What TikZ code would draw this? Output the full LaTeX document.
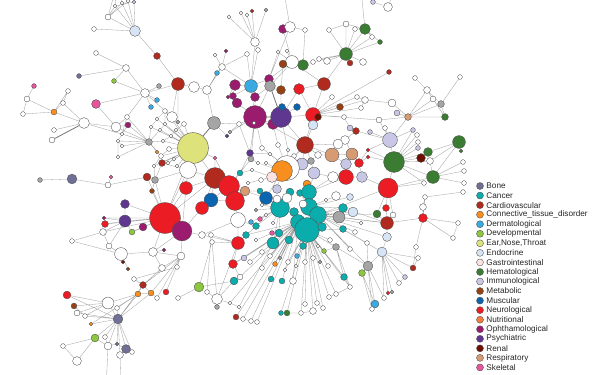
\documentclass[tikz,border=0pt]{standalone}
\usepackage{fontspec}
\setmainfont{Liberation Sans}
\usetikzlibrary{positioning,backgrounds}

\definecolor{cBone}{RGB}{112,112,150}
\definecolor{cCan}{RGB}{10,172,172}
\definecolor{cCar}{RGB}{176,42,30}
\definecolor{cCon}{RGB}{247,142,30}
\definecolor{cDer}{RGB}{58,170,225}
\definecolor{cDev}{RGB}{141,198,63}
\definecolor{cEnt}{RGB}{221,226,122}
\definecolor{cEndo}{RGB}{214,228,245}
\definecolor{cGas}{RGB}{253,226,226}
\definecolor{cHem}{RGB}{58,125,50}
\definecolor{cImm}{RGB}{200,200,230}
\definecolor{cMet}{RGB}{150,65,20}
\definecolor{cMus}{RGB}{10,100,176}
\definecolor{cNeu}{RGB}{236,28,36}
\definecolor{cNut}{RGB}{242,125,60}
\definecolor{cOph}{RGB}{155,28,110}
\definecolor{cPsy}{RGB}{95,55,145}
\definecolor{cRen}{RGB}{110,15,0}
\definecolor{cRes}{RGB}{215,155,115}
\definecolor{cSke}{RGB}{230,85,155}
\definecolor{cGry}{RGB}{165,165,165}

\begin{document}
\begin{tikzpicture}[
x=1pt,y=-1pt,
dis/.style={circle,draw=black!70,line width=0.35pt,inner sep=0pt,minimum size=#1pt+0.8pt},
wht/.style={dis=#1,fill=white},
gry/.style={dis=#1,fill=cGry},
bone/.style={dis=#1,fill=cBone},
can/.style={dis=#1,fill=cCan},
car/.style={dis=#1,fill=cCar},
con/.style={dis=#1,fill=cCon},
der/.style={dis=#1,fill=cDer},
dev/.style={dis=#1,fill=cDev},
ent/.style={dis=#1,fill=cEnt},
endo/.style={dis=#1,fill=cEndo},
gas/.style={dis=#1,fill=cGas},
hem/.style={dis=#1,fill=cHem},
imm/.style={dis=#1,fill=cImm},
met/.style={dis=#1,fill=cMet},
mus/.style={dis=#1,fill=cMus},
neu/.style={dis=#1,fill=cNeu},
nut/.style={dis=#1,fill=cNut},
oph/.style={dis=#1,fill=cOph},
psy/.style={dis=#1,fill=cPsy},
ren/.style={dis=#1,fill=cRen},
res/.style={dis=#1,fill=cRes},
ske/.style={dis=#1,fill=cSke},
link/.style={draw=black!38,line width=0.3pt},
heavy/.style={draw=black!55,line width=0.8pt},
lab/.style={inner sep=0pt,text=black!85,font=\fontsize{8.2}{9.8}\selectfont}
]
\useasboundingbox (0,0) rectangle (600,375);

\node[endo=10] (endo1) at (135,31) {};
\node[wht=5] (w1) at (108,17) {};
\node[wht=4] (w2) at (94,29) {};
\node[wht=3] (w3) at (115,6) {};
\node[wht=3] (w4) at (122,3) {};
\node[wht=3] (w5) at (128,1) {};
\node[imm=3] (imm1) at (134,2) {};
\node[car=6] (car1) at (157,56) {};
\node[wht=4] (w6) at (96,53) {};
\node[wht=6] (w7) at (126,68) {};
\node[dev=4] (dev1) at (114,81) {};
\node[bone=4] (bone1) at (79,76) {};
\node[wht=8] (w8) at (145,93) {};
\node[gry=4] (g1) at (159,86) {};
\node[der=4] (der1) at (157,100) {};
\node[der=4] (der2) at (151,107) {};
\node[car=12] (car2) at (178,84) {};
\node[wht=10] (w13) at (194,87) {};
\node[wht=8] (w14) at (207,90) {};
\node[wht=10] (w20) at (172,117) {};
\node[gry=3] (g12) at (178,122) {};
\coordinate (up1) at (118,-20);
\coordinate (up2) at (282,-20);
\coordinate (up3) at (360,-20);
\coordinate (up4) at (398,-20);
\coordinate (down1) at (106,390);
\coordinate (down2) at (121,390);

\node[ske=8] (ske1) at (96,104) {};
\node[ske=4] (ske2) at (34,86) {};
\node[wht=5] (w18) at (27,99) {};
\node[wht=4] (w19) at (23,114) {};
\node[con=5] (con2) at (54,112) {};
\node[wht=4] (w22) at (68,91) {};
\node[wht=4] (w23) at (63,103) {};
\node[wht=10] (w9) at (84,123) {};
\node[wht=4] (w24) at (54,130) {};
\node[wht=5] (w25) at (52,140) {};
\node[wht=9] (w10) at (116,127) {};
\node[wht=4] (w11) at (127,117) {};
\node[oph=5] (oph1) at (128,125) {};
\node[wht=3] (w12) at (122,134) {};
\node[wht=3] (w15) at (118,141) {};
\node[wht=3] (w16) at (122,146) {};
\node[wht=3] (w17) at (118,157) {};
\node[gry=6] (g2) at (149,142) {};
\node[con=3] (con1) at (157,152) {};

\node[gry=12] (g3) at (214,123) {};
\node[wht=3] (e1) at (160,130) {};
\node[wht=3] (e2) at (165,124) {};
\node[wht=3] (e3) at (171,136) {};
\node[wht=3] (e4) at (163,141) {};
\node[wht=4] (e5) at (169,149) {};
\node[wht=3] (e6) at (176,130) {};
\node[wht=4] (e7) at (184,124) {};
\node[wht=4] (e8) at (161,156) {};
\node[wht=3] (e9) at (168,163) {};
\node[wht=3] (e10) at (174,159) {};
\node[wht=3] (e11) at (154,166) {};
\node[wht=3] (e12) at (177,166) {};
\node[wht=3] (e13) at (151,127) {};
\node[wht=3] (e14) at (157,119) {};
\node[wht=4] (e15) at (165,111) {};
\node[ent=30] (ent1) at (193,148) {};
\node[wht=16] (w26) at (188,170) {};
\node[car=6] (car10) at (162,163) {};
\node[gry=6] (g10) at (155,180) {};
\node[car=7] (car11) at (147,177) {};
\node[ske=3] (ske3) at (111,177) {};
\node[wht=5] (w75) at (108,185) {};
\node[bone=9] (bone2) at (72,179) {};
\node[gry=4] (g11) at (40,180) {};
\node[met=4] (met6) at (152,191) {};
\node[ske=3] (ske4) at (215,158) {};

\node[wht=8] (w28) at (255,42) {};
\node[wht=4] (w29) at (247,54) {};
\node[wht=4] (w30) at (258,50) {};
\node[wht=3] (w31) at (229,17) {};
\node[wht=3] (w32) at (241,13) {};
\node[wht=3] (w33) at (247,15) {};
\node[car=3] (car3) at (252,11) {};
\node[gry=3] (g5) at (266,10) {};
\node[oph=3] (oph10) at (226,51) {};
\node[wht=3] (w34) at (215,55) {};
\node[wht=6] (w35) at (222,67) {};
\node[der=4] (der4) at (217,73) {};
\node[oph=10] (oph3) at (235,85) {};
\node[oph=3] (oph6) at (228,97) {};
\node[oph=6] (oph4) at (233,96) {};
\node[oph=9] (oph5) at (237,103) {};
\node[oph=8] (oph7) at (255,97) {};
\node[der=12] (der3) at (251,86) {};
\node[oph=8] (oph8) at (269,79) {};
\node[gry=10] (g4) at (270,86) {};
\node[met=8] (met1) at (281,90) {};
\node[neu=10] (neu1) at (299,89) {};
\node[oph=10] (oph9) at (273,124) {};
\node[oph=22] (oph2) at (255,117) {};
\node[psy=20] (psy1) at (281,117) {};
\node[mus=6] (mus1) at (282,107) {};
\node[mus=6] (mus2) at (297,107) {};
\node[wht=3] (w27) at (254,123) {};
\node[wht=4] (w37) at (239,124) {};
\node[gry=3] (g7) at (230,132) {};
\node[psy=3] (psy3) at (227,136) {};
\node[psy=6] (psy2) at (250,153) {};
\node[gry=5] (g6) at (251,159) {};

\node[wht=4] (w40) at (329,30) {};
\node[wht=5] (w39) at (346,24) {};
\node[wht=4] (w41) at (355,29) {};
\node[wht=4] (w42) at (372,37) {};
\node[hem=10] (hem1) at (365,29) {};
\node[hem=4] (hem3) at (380,42) {};
\node[hem=12] (hem2) at (346,54) {};
\node[car=5] (car4) at (350,63) {};
\node[wht=6] (w38) at (363,62) {};
\node[wht=8] (w43) at (388,7) {};
\node[imm=4] (imm2) at (373,2) {};
\node[wht=6] (w44) at (327,61) {};
\node[wht=4] (w45) at (319,59) {};
\node[wht=4] (w46) at (313,62) {};
\node[hem=10] (hem4) at (303,65) {};
\node[wht=4] (w47) at (305,30) {};
\node[oph=8] (oph11) at (283,29) {};
\node[wht=10] (w48) at (290,27) {};
\node[wht=3] (w151) at (278,52) {};
\node[wht=3] (w152) at (287,51) {};
\node[wht=12] (w49) at (292,62) {};
\node[met=7] (met2) at (283,64) {};

\node[car=12] (car5) at (324,84) {};
\node[wht=4] (w60) at (332,97) {};
\node[met=6] (met3) at (340,107) {};
\node[wht=4] (w58) at (344,117) {};
\node[wht=4] (w57) at (357,97) {};
\node[wht=6] (w56) at (365,100) {};
\node[wht=4] (w59) at (361,108) {};
\node[neu=14] (neu2) at (313,115) {};
\node[ren=6] (ren1) at (318,117) {};
\node[endo=9] (endo2) at (313,125) {};
\node[car=4] (car6) at (389,72) {};
\node[wht=4] (w50) at (415,78) {};
\node[wht=4] (w51) at (460,77) {};
\node[wht=6] (w52) at (427,90) {};
\node[wht=5] (w53) at (433,99) {};
\node[gry=6] (g8) at (441,104) {};
\node[hem=6] (hem5) at (445,117) {};
\node[wht=7] (w54) at (392,103) {};
\node[imm=5] (imm3) at (397,113) {};
\node[res=6] (res1) at (408,117) {};
\node[wht=5] (w55) at (379,120) {};

\node[car=16] (car7) at (305,145) {};
\node[wht=6] (w65) at (318,155) {};
\node[gry=6] (g9) at (311,161) {};
\node[wht=8] (w62) at (345,140) {};
\node[wht=9] (w61) at (338,144) {};
\node[res=13] (res2) at (332,155) {};
\node[res=11] (res3) at (352,154) {};
\node[imm=5] (imm5) at (350,128) {};
\node[car=6] (car8) at (356,131) {};
\node[imm=4] (imm6) at (370,132) {};
\node[wht=4] (w63) at (385,128) {};
\node[imm=14] (imm4) at (390,140) {};
\node[neu=3] (neu4) at (368,150) {};
\node[neu=3] (neu5) at (368,157) {};
\node[neu=8] (neu3) at (359,163) {};
\node[imm=10] (imm7) at (346,164) {};
\node[imm=11] (imm10) at (302,164) {};
\node[imm=11] (imm9) at (314,173) {};
\node[wht=10] (w64) at (333,177) {};
\node[neu=14] (neu6) at (346,177) {};
\node[imm=10] (imm8) at (362,177) {};
\node[imm=4] (imm12) at (413,130) {};
\node[wht=4] (w67) at (417,135) {};
\node[wht=4] (w68) at (418,142) {};
\node[imm=4] (imm13) at (418,148) {};
\node[hem=20] (hem6) at (394,162) {};
\node[ren=8] (ren2) at (421,158) {};
\node[hem=8] (hem7) at (428,152) {};
\node[wht=6] (w66) at (430,161) {};
\node[hem=12] (hem8) at (433,177) {};
\node[hem=12] (hem9) at (459,142) {};
\node[hem=3] (hem10) at (461,151) {};
\node[wht=4] (w69) at (463,162) {};
\node[wht=4] (w70) at (464,171) {};
\node[wht=4] (w71) at (464,183) {};
\node[wht=4] (w72) at (424,183) {};

\node[wht=4] (w110) at (262,148) {};
\node[wht=3] (w111) at (270,154) {};
\node[wht=4] (w112) at (278,145) {};
\node[wht=3] (w113) at (288,150) {};
\node[wht=4] (w114) at (294,156) {};
\node[wht=3] (w115) at (258,163) {};
\node[wht=3] (w116) at (266,163) {};
\node[wht=3] (w117) at (252,170) {};
\node[wht=4] (w118) at (261,180) {};
\node[wht=3] (w119) at (248,183) {};
\node[wht=24] (w73) at (287,168) {};
\node[con=20] (con3) at (282,171) {};
\node[gas=10] (gas1) at (272,177) {};
\node[imm=8] (imm14) at (277,189) {};

\node[car=20] (car9) at (215,178) {};
\node[neu=12] (neu10) at (186,188) {};
\node[can=5] (can1) at (240,173) {};
\node[neu=20] (neu7) at (229,186) {};
\node[res=9] (res4) at (245,191) {};
\node[mus=13] (mus3) at (211,200) {};
\node[neu=12] (neu9) at (202,208) {};
\node[neu=18] (neu8) at (235,201) {};
\node[mus=12] (mus4) at (266,198) {};
\node[wht=14] (w74) at (238,220) {};
\node[neu=12] (neu11) at (238,243) {};
\node[can=6] (can25) at (246,235) {};
\node[psy=8] (psy4) at (125,204) {};
\node[psy=11] (psy5) at (125,221) {};
\node[oph=3] (oph14) at (104,218) {};
\node[neu=6] (neu13) at (105,224) {};
\node[wht=6] (w76) at (103,232) {};
\node[oph=7] (oph13) at (143,227) {};
\node[dev=5] (dev2) at (132,232) {};
\node[wht=4] (w77) at (72,241) {};
\node[wht=5] (w78) at (109,246) {};
\node[wht=12] (w79) at (121,254) {};
\node[ren=3] (ren3) at (123,262) {};
\node[met=3] (met4) at (128,269) {};
\node[neu=30] (neu12) at (165,218) {};
\node[oph=19] (oph12) at (182,231) {};
\node[wht=8] (w80) at (153,252) {};
\node[oph=3] (oph15) at (164,250) {};
\node[wht=7] (w81) at (181,256) {};
\node[wht=6] (w82) at (162,268) {};
\node[wht=4] (w83) at (177,267) {};
\node[wht=6] (w84) at (202,235) {};
\node[wht=4] (w85) at (211,235) {};
\node[wht=4] (w86) at (212,242) {};

\node[wht=4] (w89) at (134,279) {};
\node[car=6] (car12) at (143,285) {};
\node[con=5] (con4) at (138,294) {};
\node[con=5] (con5) at (151,293) {};
\node[wht=4] (w88) at (157,298) {};
\node[neu=5] (neu14) at (166,292) {};
\node[wht=4] (w90) at (178,298) {};
\node[dev=9] (dev3) at (199,287) {};
\node[wht=4] (w148) at (207,292) {};
\node[wht=10] (w91) at (217,299) {};
\node[gry=4] (g13) at (217,307) {};
\node[neu=7] (neu15) at (67,295) {};
\node[met=5] (met5) at (74,306) {};
\node[wht=5] (w93) at (77,313) {};
\node[wht=11] (w94) at (108,303) {};
\node[wht=4] (w95) at (117,308) {};
\node[wht=4] (w96) at (85,316) {};
\node[con=3] (con6) at (91,324) {};
\node[bone=9] (bone3) at (118,319) {};
\node[dev=7] (dev4) at (95,338) {};
\node[wht=4] (w102) at (105,337) {};
\node[wht=4] (w97) at (63,346) {};
\node[wht=8] (w98) at (77,361) {};
\node[wht=7] (w99) at (108,346) {};
\node[bone=3] (bone4) at (117,344) {};
\node[bone=8] (bone5) at (126,349) {};
\node[wht=6] (w100) at (120,355) {};
\node[wht=4] (w101) at (132,352) {};

\node[con=7] (con8) at (307,184) {};
\node[can=5] (can17) at (260,191) {};
\node[wht=3] (c14) at (262,205) {};
\node[wht=3] (c15) at (266,215) {};
\node[gry=3] (c16) at (256,210) {};
\node[wht=3] (c24) at (273,223) {};
\node[der=4] (der5) at (251,222) {};
\node[can=6] (can19) at (256,226) {};
\node[ske=4] (ske5) at (260,219) {};
\node[wht=3] (c13) at (256,240) {};
\node[can=7] (can10) at (290,192) {};
\node[can=6] (can11) at (300,193) {};
\node[can=14] (can7) at (309,192) {};
\node[can=18] (can5) at (280,208) {};
\node[wht=7] (w121) at (277,199) {};
\node[wht=9] (w120) at (287,198) {};
\node[can=8] (can8) at (294,212) {};
\node[can=16] (can3) at (309,207) {};
\node[can=16] (can4) at (318,215) {};
\node[wht=7] (w122) at (303,204) {};
\node[can=14] (can6) at (298,222) {};
\node[can=24] (can2) at (307,230) {};
\node[can=8] (can9) at (322,227) {};
\node[ske=4] (ske6) at (272,233) {};
\node[can=7] (can15) at (279,233) {};
\node[can=11] (can14) at (273,243) {};
\node[can=7] (can16) at (289,240) {};
\node[can=6] (can18) at (303,246) {};
\node[wht=3] (c18) at (326,200) {};
\node[wht=8] (c19) at (336,196) {};
\node[can=8] (can12) at (343,208) {};
\node[gry=11] (g14) at (339,217) {};
\node[endo=6] (endo4) at (350,197) {};
\node[endo=9] (endo3) at (353,212) {};
\node[can=6] (can13) at (343,229) {};
\node[wht=4] (c21) at (355,232) {};
\node[wht=3] (c22) at (361,223) {};
\node[hem=7] (hem11) at (377,214) {};
\node[neu=19] (neu16) at (388,188) {};
\node[neu=6] (neu17) at (386,208) {};
\node[wht=5] (w123) at (393,215) {};
\node[car=12] (car14) at (387,223) {};
\node[endo=8] (endo5) at (387,237) {};
\node[endo=9] (endo6) at (382,252) {};
\node[wht=4] (w140) at (367,243) {};
\node[wht=4] (c23) at (350,249) {};
\node[gry=6] (g16) at (336,247) {};
\node[dev=4] (dev5) at (324,251) {};
\node[wht=4] (c17) at (330,240) {};
\node[wht=3] (c20) at (318,246) {};

\node[wht=4] (c1) at (262,252) {};
\node[wht=4] (c2) at (270,256) {};
\node[gry=3] (c3) at (280,258) {};
\node[wht=4] (c4) at (288,262) {};
\node[wht=3] (c5) at (296,266) {};
\node[wht=4] (c6) at (305,262) {};
\node[wht=4] (c7) at (313,258) {};
\node[gry=3] (c8) at (320,262) {};
\node[wht=4] (c9) at (328,266) {};
\node[wht=3] (c10) at (285,270) {};
\node[wht=4] (c11) at (262,268) {};
\node[wht=4] (c12) at (250,262) {};
\node[der=4] (der6) at (297,256) {};
\node[con=4] (con9) at (275,264) {};
\node[neu=8] (neu20) at (233,264) {};
\node[imm=5] (imm17) at (244,258) {};
\node[wht=5] (w145) at (240,277) {};
\node[can=7] (can20) at (234,281) {};
\node[can=5] (can21) at (271,279) {};
\node[can=5] (can22) at (282,281) {};
\node[wht=6] (w146) at (293,281) {};
\node[gry=9] (g15) at (368,266) {};
\node[dev=6] (dev6) at (362,273) {};
\node[can=6] (can23) at (344,277) {};
\node[wht=4] (w128) at (350,287) {};
\node[wht=4] (w130) at (336,294) {};
\node[wht=4] (w129) at (329,297) {};
\node[wht=4] (w133) at (323,308) {};
\node[wht=4] (w131) at (317,303) {};
\node[wht=6] (w132) at (313,311) {};
\node[wht=4] (w147) at (305,304) {};
\node[wht=4] (w144) at (301,313) {};
\node[hem=5] (hem12) at (287,313) {};
\node[can=4] (can24) at (281,313) {};
\node[wht=4] (w143) at (257,322) {};
\node[wht=4] (w142) at (251,321) {};
\node[wht=4] (w141) at (243,319) {};
\node[car=5] (car16) at (236,317) {};
\node[wht=3] (w149) at (230,303) {};
\node[wht=3] (w150) at (239,307) {};
\node[car=5] (car15) at (413,268) {};
\node[wht=4] (w124) at (418,258) {};
\node[imm=4] (imm16) at (405,277) {};
\node[wht=4] (w125) at (399,283) {};
\node[gry=3] (g17) at (392,292) {};
\node[neu=3] (neu18) at (388,293) {};
\node[wht=4] (w126) at (384,298) {};
\node[der=7] (der7) at (375,304) {};
\node[wht=4] (w127) at (372,309) {};
\node[neu=8] (neu19) at (423,218) {};
\node[wht=6] (w134) at (423,207) {};
\node[wht=4] (w135) at (425,197) {};
\node[wht=4] (w138) at (463,192) {};
\node[wht=4] (w136) at (458,223) {};
\node[wht=4] (w137) at (453,238) {};
\node[wht=4] (w139) at (416,247) {};

\node[bone=6.2] (kBone) at (480,186) {};
\node[lab,right=2.6pt of kBone] (tBone) {Bone};
\node[can=6.2] (kCan) at (480,195.55) {};
\node[lab,right=2.6pt of kCan] (tCan) {Cancer};
\node[car=6.2] (kCar) at (480,205.1) {};
\node[lab,right=2.6pt of kCar] (tCar) {Cardiovascular};
\node[con=6.2] (kCon) at (480,214.65) {};
\node[lab,right=2.6pt of kCon] (tCon) {Connective\_tissue\_disorder};
\node[der=6.2] (kDer) at (480,224.2) {};
\node[lab,right=2.6pt of kDer] (tDer) {Dermatological};
\node[dev=6.2] (kDev) at (480,233.75) {};
\node[lab,right=2.6pt of kDev] (tDev) {Developmental};
\node[ent=6.2] (kEnt) at (480,243.3) {};
\node[lab,right=2.6pt of kEnt] (tEnt) {Ear,Nose,Throat};
\node[endo=6.2] (kEndo) at (480,252.85) {};
\node[lab,right=2.6pt of kEndo] (tEndo) {Endocrine};
\node[gas=6.2] (kGas) at (480,262.4) {};
\node[lab,right=2.6pt of kGas] (tGas) {Gastrointestinal};
\node[hem=6.2] (kHem) at (480,271.95) {};
\node[lab,right=2.6pt of kHem] (tHem) {Hematological};
\node[imm=6.2] (kImm) at (480,281.5) {};
\node[lab,right=2.6pt of kImm] (tImm) {Immunological};
\node[met=6.2] (kMet) at (480,291.05) {};
\node[lab,right=2.6pt of kMet] (tMet) {Metabolic};
\node[mus=6.2] (kMus) at (480,300.6) {};
\node[lab,right=2.6pt of kMus] (tMus) {Muscular};
\node[neu=6.2] (kNeu) at (480,310.15) {};
\node[lab,right=2.6pt of kNeu] (tNeu) {Neurological};
\node[nut=6.2] (kNut) at (480,319.7) {};
\node[lab,right=2.6pt of kNut] (tNut) {Nutritional};
\node[oph=6.2] (kOph) at (480,329.25) {};
\node[lab,right=2.6pt of kOph] (tOph) {Ophthamological};
\node[psy=6.2] (kPsy) at (480,338.8) {};
\node[lab,right=2.6pt of kPsy] (tPsy) {Psychiatric};
\node[ren=6.2] (kRen) at (480,348.35) {};
\node[lab,right=2.6pt of kRen] (tRen) {Renal};
\node[res=6.2] (kRes) at (480,357.9) {};
\node[lab,right=2.6pt of kRes] (tRes) {Respiratory};
\node[ske=6.2] (kSke) at (480,367.45) {};
\node[lab,right=2.6pt of kSke] (tSke) {Skeletal};

\begin{pgfonlayer}{background}
\fill[white] (0,0) rectangle (600,375);

\draw[link] (endo1) -- (w1) (endo1) -- (w2) (endo1) -- (w3) (endo1) -- (w4) (endo1) -- (w5) (endo1) -- (imm1) (endo1) -- (car1);
\draw[link] (w1) -- (w3) (w1) -- (w4) (w1) -- (w5) (w3) -- (imm1) (w1) -- (up1) (w3) -- (up1) (w4) -- (up1);
\draw[link] (car1) -- (car2) (car2) -- (w13) (car2) -- (w20) (car2) -- (g12) (car2) -- (w8) (w13) -- (w14) (w14) -- (g3) (w14) -- (der4) (w14) -- (w35);
\draw[link] (w6) -- (w7) (w7) -- (w8) (dev1) -- (w7) (dev1) -- (w8) (bone1) -- (w7) (w8) -- (g1) (w8) -- (der1) (w8) -- (der2) (w8) -- (w11) (w8) -- (w20);

\draw[link] (ske2) -- (w18) (w18) -- (w19) (w18) -- (con2) (w19) -- (con2) (con2) -- (w22) (con2) -- (w23) (w22) -- (w23) (con2) -- (w9) (w23) -- (w9) (w24) -- (w9) (w9) -- (w10) (ske1) -- (w10) (ske1) -- (w8);
\draw[heavy] (w25) -- (w9);
\draw[link] (w10) -- (oph1) (w10) -- (w11) (w11) -- (w12) (w12) -- (w15) (w15) -- (w16) (oph1) -- (w12) (g2) -- (w10) (g2) -- (w11) (g2) -- (oph1) (g2) -- (w12) (g2) -- (w15) (g2) -- (w16) (g2) -- (w17) (g2) -- (con1) (g2) -- (w9) (w15) -- (w17);

\draw[heavy] (ent1) -- (g3);
\draw[link] (ent1) -- (w26) (ent1) -- (w20) (ent1) -- (e1) (ent1) -- (e2) (ent1) -- (e3) (ent1) -- (e4) (ent1) -- (e5) (ent1) -- (e6) (ent1) -- (e7) (ent1) -- (e8) (ent1) -- (e9) (ent1) -- (e10) (ent1) -- (e11) (ent1) -- (e12) (ent1) -- (e13) (ent1) -- (e14) (ent1) -- (e15) (ent1) -- (car10) (ent1) -- (ske4) (ent1) -- (car9) (ent1) -- (neu12);
\draw[link] (g2) -- (e1) (g2) -- (e4) (g2) -- (e8) (g2) -- (e13) (e1) -- (e2) (e2) -- (e15) (e3) -- (e4) (e5) -- (e8) (e9) -- (e10) (e11) -- (e8) (e6) -- (e7) (e14) -- (e15) (e13) -- (e14) (w20) -- (e15) (w20) -- (g12) (e3) -- (e6);
\draw[link] (car11) -- (g10) (g10) -- (car10) (car11) -- (w75) (w75) -- (ske3) (bone2) -- (w75) (g11) -- (bone2) (car10) -- (w26) (car10) -- (e9) (e11) -- (g10) (met6) -- (g10) (met6) -- (neu12);

\draw[heavy] (oph2) -- (psy1) (psy1) -- (g4);
\draw[link] (oph2) -- (der3) (oph2) -- (oph7) (oph2) -- (oph5) (oph2) -- (oph9) (oph2) -- (g4) (oph2) -- (w37) (oph2) -- (psy2) (oph2) -- (g6) (oph2) -- (car7) (oph2) -- (g7) (oph2) -- (w27);
\draw[link] (psy1) -- (mus1) (psy1) -- (mus2) (psy1) -- (met1) (psy1) -- (neu1) (psy1) -- (oph9) (psy1) -- (neu2) (psy1) -- (car7);
\draw[link] (der3) -- (oph3) (der3) -- (oph4) (der3) -- (oph7) (der3) -- (w28) (der3) -- (w29) (der3) -- (w30) (der3) -- (w35) (der3) -- (oph8) (oph3) -- (oph4) (oph3) -- (oph6) (oph4) -- (oph5) (oph7) -- (g4) (oph8) -- (g4) (g4) -- (met1);
\draw[link] (w28) -- (w31) (w28) -- (w32) (w28) -- (w33) (w28) -- (car3) (w28) -- (g5) (w28) -- (w30) (w35) -- (w34) (w35) -- (der4) (w35) -- (oph10) (w35) -- (w29);
\draw[link] (psy2) -- (g6) (psy2) -- (w37) (psy3) -- (g7) (g7) -- (w37) (g3) -- (w37) (g3) -- (psy3) (psy2) -- (can1) (g6) -- (neu7);
\draw[link] (oph8) -- (w48) (g4) -- (w49) (oph8) -- (w49) (met1) -- (met2) (w151) -- (w49) (w152) -- (w49) (w151) -- (oph8);

\draw[link] (hem2) -- (hem1) (hem2) -- (w39) (hem2) -- (w40) (hem2) -- (w41) (hem2) -- (w42) (hem2) -- (hem3) (hem2) -- (car4) (hem2) -- (w38) (hem2) -- (w44) (hem2) -- (w45) (hem2) -- (w46) (hem2) -- (car5);
\draw[link] (hem1) -- (w39) (hem1) -- (w41) (hem1) -- (hem3) (hem1) -- (w42) (hem1) -- (up3) (w43) -- (imm2) (w43) -- (up4) (w39) -- (w40);
\draw[link] (w48) -- (oph11) (w48) -- (w47) (w48) -- (up2) (w47) -- (hem4) (hem4) -- (w49) (w49) -- (met2) (hem4) -- (w46) (w45) -- (w44) (oph11) -- (w49);

\draw[link] (res1) -- (w54) (res1) -- (imm3) (res1) -- (w55) (res1) -- (hem5) (res1) -- (g8) (res1) -- (w53) (res1) -- (w52) (g8) -- (w52) (g8) -- (w51) (g8) -- (hem5) (w52) -- (w50) (w52) -- (w53) (w53) -- (hem5) (res1) -- (imm4) (w55) -- (imm4);
\draw[link] (car6) -- (neu2) (w56) -- (w57) (w56) -- (neu2) (met3) -- (neu2) (w58) -- (neu2) (w59) -- (neu2) (w57) -- (neu2) (w60) -- (neu2) (car5) -- (neu2) (car5) -- (w49) (car5) -- (neu1) (neu1) -- (neu2) (endo2) -- (neu2) (ren1) -- (neu2) (w56) -- (w59) (w55) -- (neu2) (w54) -- (w56);

\draw[link] (hem6) -- (ren2) (hem6) -- (hem7) (hem6) -- (w66) (hem6) -- (imm12) (hem6) -- (w67) (hem6) -- (w68) (hem6) -- (imm13) (hem6) -- (w72) (hem6) -- (neu4) (hem6) -- (neu5) (hem6) -- (imm4) (hem6) -- (hem8) (hem6) -- (neu16);
\draw[link] (hem8) -- (w66) (hem8) -- (w69) (hem8) -- (w70) (hem8) -- (w71) (hem8) -- (hem9) (hem9) -- (hem10) (hem9) -- (w66) (ren2) -- (hem7) (hem7) -- (hem9);
\draw[link] (imm4) -- (w63) (imm4) -- (imm6) (imm4) -- (car8) (imm4) -- (neu4) (imm4) -- (imm12);
\draw[link] (car7) -- (res2) (car7) -- (w61) (car7) -- (imm10) (car7) -- (g9) (car7) -- (w65) (car7) -- (neu2) (car7) -- (endo2) (car7) -- (con3);
\draw[link] (res2) -- (w61) (res2) -- (res3) (res2) -- (imm7) (res2) -- (w65) (res3) -- (w62) (res3) -- (neu3) (res3) -- (imm7) (w62) -- (car8) (car8) -- (imm5) (neu3) -- (neu4) (neu3) -- (neu5) (neu3) -- (imm8) (imm7) -- (neu6) (neu6) -- (imm8) (neu6) -- (w64) (w64) -- (imm9) (imm9) -- (g9) (imm10) -- (g9) (imm10) -- (con3) (w61) -- (w62) (imm5) -- (w58);

\draw[link] (w73) -- (w110) (w73) -- (w111) (w73) -- (w112) (w73) -- (w113) (w73) -- (w114) (w73) -- (imm10) (con3) -- (gas1) (con3) -- (imm14) (con3) -- (w115) (con3) -- (w116) (con3) -- (mus4) (gas1) -- (w117) (gas1) -- (w118) (gas1) -- (w119) (w110) -- (oph2) (w112) -- (oph9) (w113) -- (psy1) (w114) -- (car7) (w111) -- (psy2) (w115) -- (g6) (w117) -- (can1);

\draw[link] (neu12) -- (oph12) (neu12) -- (psy4) (neu12) -- (psy5) (neu12) -- (oph13) (neu12) -- (dev2) (neu12) -- (w76) (neu12) -- (car11) (neu12) -- (w26) (neu12) -- (car9) (neu12) -- (neu10) (neu12) -- (oph14) (neu12) -- (neu13) (neu12) -- (w80) (neu12) -- (g10);
\draw[link] (oph12) -- (w84) (oph12) -- (neu10) (oph12) -- (w81) (oph12) -- (w80) (oph12) -- (neu9);
\draw[link] (psy5) -- (psy4) (psy5) -- (neu13) (psy5) -- (dev2) (psy5) -- (w78) (psy5) -- (w76) (oph13) -- (dev2) (w76) -- (w77) (w76) -- (w78) (w78) -- (w79) (w79) -- (ren3) (w79) -- (met4) (w79) -- (w80) (w80) -- (oph15) (w80) -- (w81) (w80) -- (w82) (w81) -- (w82) (w81) -- (w83) (w77) -- (w79) (oph14) -- (psy5);
\draw[link] (car12) -- (w82) (car12) -- (w81) (con5) -- (w81) (w88) -- (w81) (neu14) -- (w81) (w89) -- (car12) (car12) -- (con4) (car12) -- (con5) (con4) -- (con5) (con5) -- (w88) (w83) -- (w89);
\draw[link] (con4) -- (w94) (con4) -- (bone3) (con4) -- (w95) (con4) -- (con6) (car12) -- (bone3) (con5) -- (bone3);
\draw[link] (w94) -- (neu15) (w94) -- (met5) (w94) -- (w93) (w94) -- (w96) (w94) -- (bone3) (w95) -- (bone3) (w96) -- (bone3) (con6) -- (bone3) (w93) -- (bone3) (neu15) -- (bone3) (met5) -- (w96);
\draw[link] (bone3) -- (dev4) (bone3) -- (w102) (bone3) -- (w99) (bone3) -- (bone4) (bone3) -- (bone5) (bone3) -- (w100) (bone3) -- (w101) (dev4) -- (w97) (dev4) -- (w98) (dev4) -- (w99) (w97) -- (w98) (w99) -- (bone4) (bone4) -- (bone5) (bone5) -- (w100) (w100) -- (down2) (w99) -- (down1) (w102) -- (w99);
\draw[link] (dev3) -- (w90) (dev3) -- (w86) (dev3) -- (can20) (w91) -- (g13) (w91) -- (neu11) (w91) -- (w86) (w91) -- (can20) (w91) -- (w148) (w148) -- (w85) (w91) -- (w149) (w149) -- (w150) (w150) -- (can14);
\draw[link] (neu7) -- (car9) (neu7) -- (neu8) (neu7) -- (res4) (neu7) -- (can1) (neu7) -- (ske4) (neu7) -- (mus3) (car9) -- (mus3) (car9) -- (neu10) (car9) -- (neu9) (car9) -- (w26) (car9) -- (ske4) (neu8) -- (mus3) (neu8) -- (w74) (neu8) -- (res4) (neu9) -- (mus3) (mus4) -- (res4) (w74) -- (neu11) (neu11) -- (w84) (neu11) -- (w85) (neu11) -- (w86) (w74) -- (w84) (neu10) -- (w26) (w26) -- (g10);

\draw[link] (can2) -- (can3) (can2) -- (can4) (can2) -- (can6) (can2) -- (can9) (can2) -- (can18) (can2) -- (can16) (can2) -- (can13) (can2) -- (can23) (can2) -- (can24) (can2) -- (hem12) (can2) -- (w144) (can2) -- (w147) (can2) -- (w131) (can2) -- (w132) (can2) -- (w129) (can2) -- (w130) (can2) -- (w133) (can2) -- (c4) (can2) -- (c5) (can2) -- (c6) (can2) -- (c7) (can2) -- (c8) (can2) -- (c9) (can2) -- (c10) (can2) -- (c17) (can2) -- (c20) (can2) -- (dev5) (can2) -- (der6) (can2) -- (g16) (can2) -- (g15) (can2) -- (w128);
\draw[link] (can5) -- (can17) (can5) -- (ske5) (can5) -- (der5) (can5) -- (can19) (can5) -- (can14) (can5) -- (can15) (can5) -- (w120) (can5) -- (w121) (can5) -- (c14) (can5) -- (c15) (can5) -- (c16) (can5) -- (c24) (can5) -- (mus4) (can5) -- (can8) (can5) -- (can10);
\draw[link] (can6) -- (can14) (can6) -- (can15) (can6) -- (can16) (can6) -- (ske6) (can6) -- (w141) (can6) -- (w142) (can6) -- (w143) (can6) -- (car16) (can6) -- (can21) (can6) -- (can22) (can6) -- (w146) (can6) -- (con9) (can6) -- (c1) (can6) -- (c2) (can6) -- (c3) (can6) -- (c11) (can6) -- (c12) (can6) -- (c13) (can6) -- (neu20) (can6) -- (imm17) (can6) -- (w145) (can6) -- (can25) (can6) -- (w149);
\draw[link] (can3) -- (can7) (can3) -- (can11) (can3) -- (w122) (can3) -- (can12) (can3) -- (g14) (can3) -- (c18) (can3) -- (c19) (can3) -- (endo4) (can4) -- (can12) (can4) -- (g14) (can4) -- (endo3) (can4) -- (hem11) (can4) -- (c21) (can4) -- (c22) (can4) -- (car14) (can4) -- (endo5) (can4) -- (endo6) (can4) -- (g15) (can4) -- (w140) (can4) -- (c23) (can4) -- (neu16) (can7) -- (con8) (can7) -- (can10) (can7) -- (imm9) (can7) -- (neu6) (can7) -- (w64);
\draw[link] (neu16) -- (w123) (neu16) -- (neu17) (neu16) -- (hem11) (neu16) -- (imm8) (neu16) -- (w72) (neu16) -- (hem8) (car14) -- (w123) (car14) -- (neu17) (car14) -- (hem11) (car14) -- (endo5) (car14) -- (neu19) (car14) -- (can12) (car14) -- (g14);
\draw[link] (endo6) -- (car15) (endo6) -- (w124) (endo6) -- (imm16) (endo6) -- (w125) (endo6) -- (neu18) (endo6) -- (g17) (endo6) -- (w126) (endo6) -- (endo5) (endo6) -- (g15) (car15) -- (w124) (imm16) -- (w125) (neu18) -- (g17) (car15) -- (w139);
\draw[link] (g15) -- (dev6) (g15) -- (der7) (g15) -- (w127) (g15) -- (w126) (g15) -- (w140) (dev6) -- (der7) (dev6) -- (w127) (g16) -- (dev5) (g16) -- (can23) (g16) -- (w128) (can23) -- (w128) (w128) -- (w130);
\draw[link] (neu19) -- (w134) (neu19) -- (w135) (neu19) -- (w136) (neu19) -- (w137) (neu19) -- (w139) (w134) -- (w135) (w135) -- (w138) (w136) -- (w137);
\draw[link] (car16) -- (w141) (w141) -- (w142) (w142) -- (w143) (can24) -- (hem12) (hem12) -- (w144) (w144) -- (w132) (w131) -- (w133) (w129) -- (w130) (neu20) -- (imm17) (neu20) -- (w145) (w145) -- (can20) (neu11) -- (can19) (neu11) -- (can25) (neu20) -- (neu11) (w74) -- (can19) (mus4) -- (can17) (res4) -- (can17);
\end{pgfonlayer}

\end{tikzpicture}
\end{document}
